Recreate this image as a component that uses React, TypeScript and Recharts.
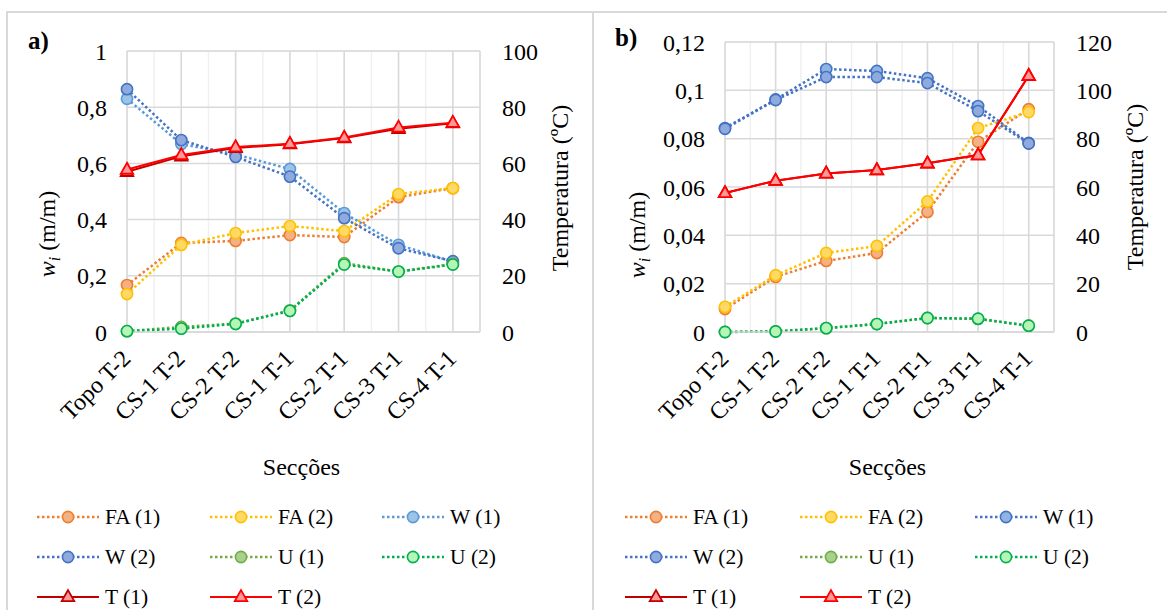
import React from 'react';
import { LineChart, Line, XAxis, YAxis, CartesianGrid, Label } from 'recharts';

const FONT = '"Liberation Serif", serif';
const AX = 24;

const categories = ['Topo T-2', 'CS-1 T-2', 'CS-2 T-2', 'CS-1 T-1', 'CS-2 T-1', 'CS-3 T-1', 'CS-4 T-1'];

// Panel a) values
const aFA1 = [0.167, 0.317, 0.324, 0.345, 0.338, 0.48, 0.512];
const aFA2 = [0.135, 0.31, 0.352, 0.377, 0.359, 0.491, 0.512];
const aW1 = [0.83, 0.669, 0.632, 0.58, 0.423, 0.31, 0.25];
const aW2 = [0.864, 0.683, 0.623, 0.553, 0.405, 0.298, 0.252];
const aU1 = [0.003, 0.018, 0.03, 0.077, 0.245, 0.215, 0.242];
const aU2 = [0.003, 0.012, 0.029, 0.075, 0.24, 0.215, 0.24];
const aT1 = [57, 62.5, 65.5, 66.8, 69, 72.3, 74.3];
const aT2 = [57.8, 63, 65.8, 67, 69.2, 72.8, 74.5];

// Panel b) values
const bFA1 = [0.0095, 0.0228, 0.0294, 0.0327, 0.0497, 0.0787, 0.0922];
const bFA2 = [0.0104, 0.0235, 0.0327, 0.0356, 0.054, 0.0844, 0.091];
const bW1 = [0.0844, 0.0962, 0.1088, 0.108, 0.105, 0.0935, 0.0782];
const bW2 = [0.0841, 0.096, 0.1055, 0.1055, 0.103, 0.0914, 0.078];
const bU1 = [0, 0.0003, 0.0016, 0.0033, 0.0058, 0.0054, 0.0026];
const bU2 = [0, 0.0002, 0.0016, 0.0033, 0.0058, 0.0055, 0.0026];
const bT1 = [57.5, 62.6, 65.6, 67, 69.8, 73.2, 106];
const bT2 = [57.5, 62.6, 65.6, 67, 69.8, 73.2, 106];

// Tick labels
const aWTicks = [0, 0.2, 0.4, 0.6, 0.8, 1];
const aTTicks = [0, 20, 40, 60, 80, 100];
const bWTicks = [0, 0.02, 0.04, 0.06, 0.08, 0.1, 0.12];
const bTTicks = [0, 20, 40, 60, 80, 100, 120];
const xTicks = [0, 1, 2, 3, 4, 5, 6];
const xMinorTicks = [0, 0.5, 1, 1.5, 2, 2.5, 3, 3.5, 4, 4.5, 5, 5.5, 6, 6.5];

const seriesNames = ['FA (1)', 'FA (2)', 'W (1)', 'W (2)', 'U (1)', 'U (2)', 'T (1)', 'T (2)'];

type Series = {
  key: string;
  name: string;
  stroke: string;
  fill: string;
  axis: 'w' | 't';
  shape: 'circle' | 'triangle';
  values: number[];
};

const makeSeries = (vals: number[][], w1Stroke: string, w1Fill: string): Series[] => [
  { key: 'fa1', name: seriesNames[0], stroke: '#ED7D31', fill: '#F4B183', axis: 'w', shape: 'circle', values: vals[0] },
  { key: 'fa2', name: seriesNames[1], stroke: '#FFC000', fill: '#FFD966', axis: 'w', shape: 'circle', values: vals[1] },
  { key: 'w1', name: seriesNames[2], stroke: w1Stroke, fill: w1Fill, axis: 'w', shape: 'circle', values: vals[2] },
  { key: 'w2', name: seriesNames[3], stroke: '#4472C4', fill: '#8FAADC', axis: 'w', shape: 'circle', values: vals[3] },
  { key: 'u1', name: seriesNames[4], stroke: '#70AD47', fill: '#A9D18E', axis: 'w', shape: 'circle', values: vals[4] },
  { key: 'u2', name: seriesNames[5], stroke: '#00B050', fill: '#B6F5B6', axis: 'w', shape: 'circle', values: vals[5] },
  { key: 't1', name: seriesNames[6], stroke: '#C00000', fill: '#FF9999', axis: 't', shape: 'triangle', values: vals[6] },
  { key: 't2', name: seriesNames[7], stroke: '#FF0000', fill: '#FF9999', axis: 't', shape: 'triangle', values: vals[7] },
];

const seriesA = makeSeries([aFA1, aFA2, aW1, aW2, aU1, aU2, aT1, aT2], '#5B9BD5', '#9DC3E6');
const seriesB = makeSeries([bFA1, bFA2, bW1, bW2, bU1, bU2, bT1, bT2], '#4472C4', '#8FB4E3');

const buildRows = (series: Series[]) =>
  categories.map((c, i) => {
    const row: Record<string, number | string> = { idx: i, cat: c };
    series.forEach((s) => {
      row[s.key] = s.values[i];
    });
    return row;
  });

const fmt = (v: number) => String(v).replace('.', ',');

const Marker = ({ cx, cy, shape, stroke, fill }: any) => {
  if (cx == null || cy == null) return null;
  if (shape === 'triangle') {
    const h = 11;
    const w = 12.5;
    return (
      <polygon
        points={`${cx},${cy - h * 0.62} ${cx + w / 2},${cy + h * 0.38} ${cx - w / 2},${cy + h * 0.38}`}
        fill={fill}
        stroke={stroke}
        strokeWidth={1.8}
        strokeLinejoin="miter"
      />
    );
  }
  return <circle cx={cx} cy={cy} r={5.6} fill={fill} stroke={stroke} strokeWidth={1.6} />;
};

const XTick = ({ x, y, payload }: any) => {
  const tx = x + 5;
  const ty = y + 28;
  return (
    <text
      x={tx}
      y={ty}
      transform={`rotate(-45, ${tx}, ${ty})`}
      textAnchor="end"
      fontSize={AX}
      fontFamily={FONT}
      style={{ fontFamily: FONT }}
      fill="#000"
    >
      {categories[payload.value]}
    </text>
  );
};

const YTick = ({ x, y, payload, textAnchor }: any) => (
  <text
    x={x}
    y={y}
    dy="0.355em"
    textAnchor={textAnchor}
    fontSize={AX}
    fontFamily={FONT}
    style={{ fontFamily: FONT }}
    fill="#000"
  >
    {fmt(payload.value)}
  </text>
);

type Panel = {
  label: string;
  left: number;
  top: number;
  width: number;
  height: number;
  margin: { top: number; right: number; left: number; bottom: number };
  series: Series[];
  wDomain: [number, number];
  wTicks: number[];
  wMinorStep: number;
  tDomain: [number, number];
  tTicks: number[];
  leftTitle: { dx: number; dy: number };
  rightTitle: { dx: number; dy: number };
  labelPos: { x: number; y: number };
  legendCols: { line: number }[];
};

const panels: Panel[] = [
  {
    label: 'a)',
    left: 8,
    top: 12,
    width: 585,
    height: 598,
    margin: { top: 39, right: 13, left: 19, bottom: 0 },
    series: seriesA,
    wDomain: [0, 1],
    wTicks: aWTicks,
    wMinorStep: 0.05,
    tDomain: [0, 100],
    tTicks: aTTicks,
    leftTitle: { dx: 20, dy: 183 },
    rightTitle: { dx: 80, dy: 137 },
    labelPos: { x: 20, y: 41 },
    legendCols: [{ line: 29 }, { line: 202 }, { line: 374 }],
  },
  {
    label: 'b)',
    left: 593,
    top: 12,
    width: 570,
    height: 598,
    margin: { top: 30, right: 9, left: 32, bottom: 0 },
    series: seriesB,
    wDomain: [0, 0.12],
    wTicks: bWTicks,
    wMinorStep: 0.005,
    tDomain: [0, 120],
    tTicks: bTTicks,
    leftTitle: { dx: 12, dy: 193 },
    rightTitle: { dx: 81, dy: 145 },
    labelPos: { x: 22, y: 38 },
    legendCols: [{ line: 32 }, { line: 207 }, { line: 382 }],
  },
];

const LegendItem = ({ s, left, top }: { s: Series; left: number; top: number }) => {
  const dotted = s.axis === 'w';
  return (
    <div style={{ position: 'absolute', left, top, display: 'flex', alignItems: 'center', height: 24 }}>
      <svg width={62} height={24} style={{ display: 'block' }}>
        <line
          x1={0}
          y1={12}
          x2={62}
          y2={12}
          stroke={s.stroke}
          strokeWidth={dotted ? 2.5 : 2}
          strokeDasharray={dotted ? '2.5 2.5' : undefined}
        />
        <Marker cx={31} cy={12} shape={s.shape} stroke={s.stroke} fill={s.fill} />
      </svg>
      <span style={{ marginLeft: 6, fontFamily: FONT, fontSize: 21.5, color: '#000', whiteSpace: 'nowrap' }}>{s.name}</span>
    </div>
  );
};

const PanelChart = ({ p }: { p: Panel }) => {
  const rows = buildRows(p.series);
  const nMinor = Math.round((p.wDomain[1] - p.wDomain[0]) / p.wMinorStep);
  const wMinorTicks = Array.from({ length: nMinor + 1 }, (_, i) => p.wDomain[0] + i * p.wMinorStep);
  const plotBottomFromTop = 320;
  const xH = p.height - plotBottomFromTop - p.margin.bottom;

  return (
    <div style={{ position: 'absolute', left: p.left, top: p.top, width: p.width, height: p.height }}>
      <div
        style={{
          position: 'absolute',
          left: p.labelPos.x,
          top: p.labelPos.y - 26,
          fontFamily: FONT,
          fontWeight: 'bold',
          fontSize: 25,
          color: '#000',
        }}
      >
        {p.label}
      </div>
      <LineChart width={p.width} height={p.height} data={rows} margin={p.margin} style={{ fontFamily: FONT }}>
        <XAxis xAxisId="minor" type="number" dataKey="idx" domain={[0, 6.5]} ticks={xMinorTicks} hide />
        <YAxis yAxisId="wminor" type="number" domain={p.wDomain} ticks={wMinorTicks} hide />
        <CartesianGrid xAxisId="minor" yAxisId="wminor" stroke="#F0F0F0" strokeWidth={1.5} />
        <CartesianGrid xAxisId="main" yAxisId="w" stroke="#D9D9D9" strokeWidth={1.5} />
        <XAxis
          xAxisId="main"
          type="number"
          dataKey="idx"
          domain={[0, 6.5]}
          ticks={xTicks}
          interval={0}
          height={xH}
          tickLine={false}
          tickSize={0}
          tickMargin={0}
          axisLine={{ stroke: '#D9D9D9', strokeWidth: 1.5 }}
          tick={<XTick />}
        >
          <Label
            content={({ viewBox }: any) => (
              <text
                x={viewBox.x + viewBox.width / 2 - 2}
                y={viewBox.y + 143}
                textAnchor="middle"
                fontSize={AX}
                fontFamily={FONT}
                style={{ fontFamily: FONT }}
                fill="#000"
              >
                Secções
              </text>
            )}
          />
        </XAxis>
        <YAxis
          yAxisId="w"
          orientation="left"
          type="number"
          domain={p.wDomain}
          ticks={p.wTicks}
          interval={0}
          width={100}
          tickLine={false}
          axisLine={false}
          tickSize={0}
          tickMargin={20}
          tick={<YTick />}
        >
          <Label
            content={({ viewBox }: any) => {
              const cx = viewBox.x + p.leftTitle.dx;
              const cy = viewBox.y + p.leftTitle.dy;
              return (
                <text
                  x={cx}
                  y={cy}
                  transform={`rotate(-90, ${cx}, ${cy})`}
                  textAnchor="middle"
                  dy="0.35em"
                  fontSize={AX}
                  fontFamily={FONT}
                  style={{ fontFamily: FONT }}
                  fill="#000"
                >
                  <tspan fontStyle="italic">w</tspan>
                  <tspan fontStyle="italic" fontSize={16} dy={5}>
                    i
                  </tspan>
                  <tspan dy={-5}> (m/m)</tspan>
                </text>
              );
            }}
          />
        </YAxis>
        <YAxis
          yAxisId="t"
          orientation="right"
          type="number"
          domain={p.tDomain}
          ticks={p.tTicks}
          interval={0}
          width={100}
          tickLine={false}
          axisLine={false}
          tickSize={0}
          tickMargin={22}
          tick={<YTick />}
        >
          <Label
            content={({ viewBox }: any) => {
              const cx = viewBox.x + p.rightTitle.dx;
              const cy = viewBox.y + p.rightTitle.dy;
              return (
                <text
                  x={cx}
                  y={cy}
                  transform={`rotate(-90, ${cx}, ${cy})`}
                  textAnchor="middle"
                  dy="0.35em"
                  fontSize={AX}
                  fontFamily={FONT}
                  style={{ fontFamily: FONT }}
                  fill="#000"
                >
                  Temperatura (ºC)
                </text>
              );
            }}
          />
        </YAxis>
        {p.series.map((s) => (
          <Line
            key={s.key}
            xAxisId="main"
            yAxisId={s.axis}
            type="linear"
            dataKey={s.key}
            name={s.name}
            stroke={s.stroke}
            strokeWidth={s.axis === 'w' ? 2.5 : 2}
            strokeDasharray={s.axis === 'w' ? '2.5 2.5' : undefined}
            isAnimationActive={false}
            activeDot={false}
            dot={(props: any) => (
              <Marker
                key={`${s.key}-${props.index}`}
                cx={props.cx}
                cy={props.cy}
                shape={s.shape}
                stroke={s.stroke}
                fill={s.fill}
              />
            )}
          />
        ))}
      </LineChart>
      {p.series.map((s, i) => {
        const col = i % 3;
        const row = Math.floor(i / 3);
        return <LegendItem key={s.key} s={s} left={p.legendCols[col].line} top={493 + row * 40} />;
      })}
    </div>
  );
};

export default function App() {
  return (
    <div
      style={{
        position: 'absolute',
        left: 0,
        top: 0,
        width: 1167,
        height: 610,
        overflow: 'hidden',
        background: '#fff',
        fontFamily: FONT,
      }}
    >
      <style>{`#root, #root * { font-family: "Liberation Serif", serif; }`}</style>
      <div
        style={{
          position: 'absolute',
          left: 6,
          top: 11,
          width: 588,
          height: 640,
          border: '2px solid #D9D9D9',
          boxSizing: 'border-box',
        }}
      />
      <div
        style={{
          position: 'absolute',
          left: 592,
          top: 11,
          width: 620,
          height: 640,
          border: '2px solid #D9D9D9',
          boxSizing: 'border-box',
        }}
      />
      {panels.map((p) => (
        <PanelChart key={p.label} p={p} />
      ))}
    </div>
  );
}
